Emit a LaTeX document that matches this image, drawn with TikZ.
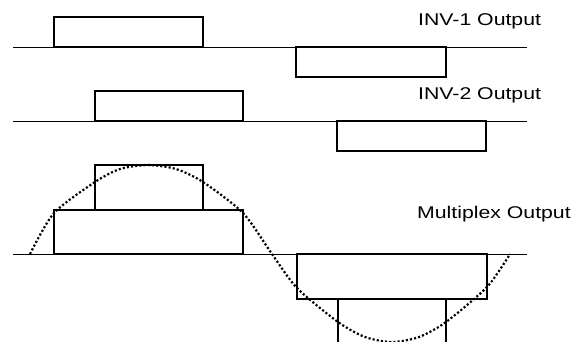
\documentclass[tikz,border=0pt]{standalone}
\usepackage{graphicx}
\usepackage{fontspec}
\setmainfont{Liberation Sans}
\begin{document}
\begin{tikzpicture}[x=1pt,y=-1pt,
  axis/.style={line width=0.8pt},
  pulse/.style={line width=2pt},
  fund/.style={line width=2.2pt, line cap=butt, dash pattern=on 2.1pt off 2.1pt},
  lbl/.style={anchor=base west, inner sep=0pt, font=\fontsize{17}{20}\selectfont}]
\useasboundingbox (0,0) rectangle (586,341);
\clip (0,0) rectangle (586,341);
% INV-1
\draw[axis] (13,47) -- (527,47);
\draw[pulse] (54,47) rectangle (203,17);
\draw[pulse] (296,47) rectangle (446,77);
\node[lbl] (inv1) at (418,25) {\scalebox{1.25}[1]{INV-1 Output}};
% INV-2
\draw[axis] (13,121) -- (527,121);
\draw[pulse] (95,121) rectangle (243,91);
\draw[pulse] (337,121) rectangle (486,151);
\node[lbl] (inv2) at (418,99) {\scalebox{1.25}[1]{INV-2 Output}};
% Multiplex
\draw[axis] (13,254) -- (527,254);
\draw[pulse] (54,254) rectangle (243,210);
\draw[pulse] (95,210) rectangle (203,165);
\draw[pulse] (297,254) rectangle (487,299);
\draw[pulse] (338,299) rectangle (446,344);
\draw[fund] plot[smooth, tension=0.45] coordinates {(30,254) (54,213) (95,182) (120,169) (148,165) (176,169) (203,182) (243,213) (272,254) (297,288) (338,322) (365,337) (392,342) (419,337) (446,322) (487,287) (510,254)};
\node[lbl] (mux) at (417,218) {\scalebox{1.25}[1]{Multiplex Output}};
\end{tikzpicture}
\end{document}
